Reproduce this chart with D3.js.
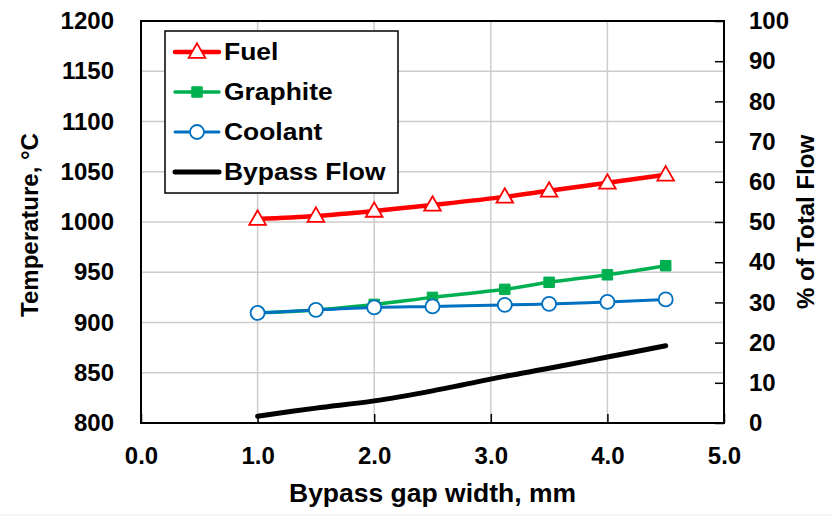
<!DOCTYPE html>
<html>
<head>
<meta charset="utf-8">
<script src="https://cdn.jsdelivr.net/npm/d3@7"></script>
<style>
  html, body { margin: 0; padding: 0; background: #fff; }
  svg { display: block; }
  text { font-family: "Liberation Sans", Arial, sans-serif; font-weight: bold; fill: #000; }
</style>
</head>
<body>
<svg id="chart" width="833" height="519"></svg>
<script>
// Bypass gap width (mm) for each case
const gapWidth = [1.0, 1.5, 2.0, 2.5, 3.12, 3.5, 4.0, 4.5];
// Peak temperatures, °C
const fuelTemp     = [1003, 1006, 1011, 1017, 1025, 1031, 1039, 1047];
const graphiteTemp = [909.5, 912.5, 918, 925, 933, 940, 947.5, 956.5];
const coolantTemp  = [909.5, 912.5, 915, 916, 917.5, 918.5, 920.5, 923];
// Bypass flow as % of total flow
const bypassFlow   = [1.7, 3.7, 5.5, 8.0, 11.6, 13.6, 16.4, 19.2];

const xTicks = [0, 1, 2, 3, 4, 5];
const tempTicks = [800, 850, 900, 950, 1000, 1050, 1100, 1150, 1200];
const flowTicks = [0, 10, 20, 30, 40, 50, 60, 70, 80, 90, 100];

const seriesNames = ["Fuel", "Graphite", "Coolant", "Bypass Flow"];

const W = 833, H = 519;
const plot = { left: 141, right: 724, top: 21, bottom: 423 };
const FONT = "'Liberation Sans', Arial, sans-serif";

const svg = d3.select("#chart");

const x = d3.scaleLinear().domain([0, 5]).range([plot.left, plot.right]);
const yT = d3.scaleLinear().domain([800, 1200]).range([plot.bottom, plot.top]);
const yP = d3.scaleLinear().domain([0, 100]).range([plot.bottom, plot.top]);

// gridlines
const grid = svg.append("g").attr("stroke", "#cccccc").attr("stroke-width", 1.5);
grid.selectAll("line.h").data(tempTicks.slice(1, -1)).join("line")
  .attr("x1", plot.left).attr("x2", plot.right)
  .attr("y1", d => yT(d)).attr("y2", d => yT(d));
grid.selectAll("line.v").data(xTicks.slice(1, -1)).join("line")
  .attr("y1", plot.top).attr("y2", plot.bottom)
  .attr("x1", d => x(d)).attr("x2", d => x(d));

// axes (ticks point inward)
const xAxis = d3.axisBottom(x).tickValues(xTicks).tickSize(-9)
  .tickFormat(d3.format(".1f")).tickPadding(24);
const gx = svg.append("g").attr("transform", `translate(0,${plot.bottom})`).call(xAxis);

const yAxisL = d3.axisLeft(yT).tickValues(tempTicks).tickSize(0)
  .tickFormat(d3.format("d")).tickPadding(27);
const gyl = svg.append("g").attr("transform", `translate(${plot.left},0)`).call(yAxisL);

const yAxisR = d3.axisRight(yP).tickValues(flowTicks).tickSize(-9)
  .tickFormat(d3.format("d")).tickPadding(25);
const gyr = svg.append("g").attr("transform", `translate(${plot.right},0)`).call(yAxisR);

[gx, gyl, gyr].forEach(g => {
  g.select(".domain").remove();
  g.selectAll(".tick line").attr("stroke", "#000").attr("stroke-width", 1.5);
  g.selectAll(".tick text")
    .style("font-family", FONT).style("font-weight", "bold")
    .attr("font-size", 24).attr("fill", "#000");
});

// plot frame
svg.append("rect")
  .attr("x", plot.left).attr("y", plot.top)
  .attr("width", plot.right - plot.left).attr("height", plot.bottom - plot.top)
  .attr("fill", "none").attr("stroke", "#000").attr("stroke-width", 2);

// series
const curve = d3.curveCatmullRom.alpha(0.5);
const tempLine = d3.line().x(d => x(d[0])).y(d => yT(d[1])).curve(curve);
const flowLine = d3.line().x(d => x(d[0])).y(d => yP(d[1])).curve(curve);

const fuelPts = d3.zip(gapWidth, fuelTemp);
const graphitePts = d3.zip(gapWidth, graphiteTemp);
const coolantPts = d3.zip(gapWidth, coolantTemp);
const bypassPts = d3.zip(gapWidth, bypassFlow);

const colors = { fuel: "#ff0000", graphite: "#00b050", coolant: "#0070c0", bypass: "#000000" };

const tri = d3.symbol().type(d3.symbolTriangle).size(120);
const sq = d3.symbol().type(d3.symbolSquare).size(110);

function drawTriangle(g, cx, cy) {
  g.append("path").attr("d", tri()).attr("transform", `translate(${cx},${cy + 1})`)
    .attr("fill", "#fff").attr("stroke", colors.fuel).attr("stroke-width", 1.8);
}
function drawSquare(g, cx, cy) {
  g.append("path").attr("d", sq()).attr("transform", `translate(${cx},${cy})`)
    .attr("fill", colors.graphite).attr("stroke", colors.graphite).attr("stroke-width", 1);
}
function drawCircle(g, cx, cy) {
  g.append("circle").attr("cx", cx).attr("cy", cy).attr("r", 7)
    .attr("fill", "#fff").attr("stroke", colors.coolant).attr("stroke-width", 1.8);
}

const sFuel = svg.append("g");
sFuel.append("path").attr("d", tempLine(fuelPts)).attr("fill", "none")
  .attr("stroke", colors.fuel).attr("stroke-width", 4.5).attr("stroke-linecap", "round");
fuelPts.forEach(d => drawTriangle(sFuel, x(d[0]), yT(d[1])));

const sGraph = svg.append("g");
sGraph.append("path").attr("d", tempLine(graphitePts)).attr("fill", "none")
  .attr("stroke", colors.graphite).attr("stroke-width", 3.5).attr("stroke-linecap", "round");
graphitePts.forEach(d => drawSquare(sGraph, x(d[0]), yT(d[1])));

const sCool = svg.append("g");
sCool.append("path").attr("d", tempLine(coolantPts)).attr("fill", "none")
  .attr("stroke", colors.coolant).attr("stroke-width", 3).attr("stroke-linecap", "round");
coolantPts.forEach(d => drawCircle(sCool, x(d[0]), yT(d[1])));

svg.append("path").attr("d", flowLine(bypassPts)).attr("fill", "none")
  .attr("stroke", colors.bypass).attr("stroke-width", 5).attr("stroke-linecap", "round");

// legend
const leg = { x: 165, y: 31, w: 233, h: 162, rowY: [52, 92, 132, 172] };
const lg = svg.append("g");
lg.append("rect").attr("x", leg.x).attr("y", leg.y).attr("width", leg.w).attr("height", leg.h)
  .attr("fill", "#fff").attr("stroke", "#000").attr("stroke-width", 1.5);
const legendStyle = [
  { color: colors.fuel, width: 4.5, marker: drawTriangle },
  { color: colors.graphite, width: 3.5, marker: drawSquare },
  { color: colors.coolant, width: 3, marker: drawCircle },
  { color: colors.bypass, width: 5, marker: null }
];
seriesNames.forEach((name, i) => {
  const cy = leg.rowY[i];
  const st = legendStyle[i];
  lg.append("line").attr("x1", 175).attr("x2", 219).attr("y1", cy).attr("y2", cy)
    .attr("stroke", st.color).attr("stroke-width", st.width).attr("stroke-linecap", "round");
  if (st.marker) st.marker(lg, 197, cy);
  lg.append("text").attr("transform", `translate(224,${cy}) scale(1.15,1)`)
    .attr("dy", "0.36em").attr("font-size", 23).text(name);
});

// axis titles
svg.append("text").attr("transform", `translate(${(plot.left + plot.right) / 2},502) scale(1.06,1)`)
  .attr("text-anchor", "middle").attr("font-size", 25).text("Bypass gap width, mm");

svg.append("text").attr("transform", `translate(38,225) rotate(-90)`)
  .attr("text-anchor", "middle").attr("font-size", 24).text("Temperature, °C");

svg.append("text").attr("transform", `translate(814,222) rotate(-90)`)
  .attr("text-anchor", "middle").attr("font-size", 24).text("% of Total Flow");

// thin separator at the bottom edge
svg.append("line").attr("x1", 0).attr("x2", W).attr("y1", 515).attr("y2", 515)
  .attr("stroke", "#ececec").attr("stroke-width", 1);
</script>
</body>
</html>
